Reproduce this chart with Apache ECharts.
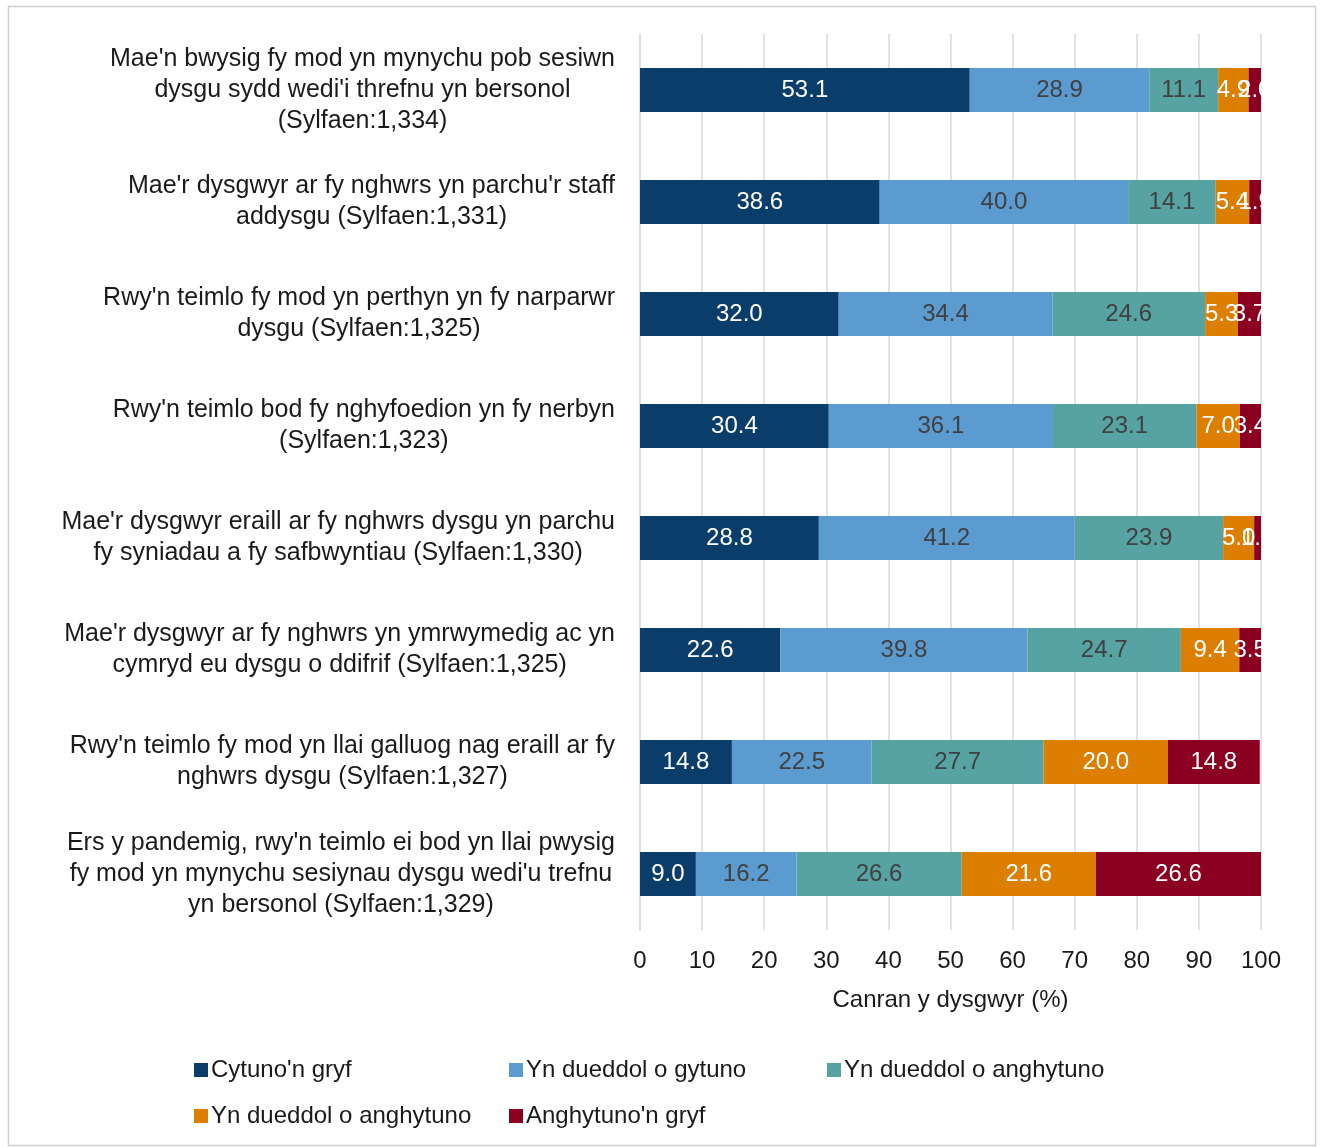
<!DOCTYPE html>
<html>
<head>
<meta charset="utf-8">
<script src="https://cdn.jsdelivr.net/npm/echarts@6/dist/echarts.min.js"></script>
<style>
html,body{margin:0;padding:0;background:#fff;}
#chart{width:1320px;height:1147px;}
</style>
</head>
<body>
<div id="chart"></div>
<script>
const categories = [
  "Mae'n bwysig fy mod yn mynychu pob sesiwn\ndysgu sydd wedi'i threfnu yn bersonol\n(Sylfaen:1,334)",
  "Mae'r dysgwyr ar fy nghwrs yn parchu'r staff\naddysgu (Sylfaen:1,331)",
  "Rwy'n teimlo fy mod yn perthyn yn fy narparwr\ndysgu (Sylfaen:1,325)",
  "Rwy'n teimlo bod fy nghyfoedion yn fy nerbyn\n(Sylfaen:1,323)",
  "Mae'r dysgwyr eraill ar fy nghwrs dysgu yn parchu\nfy syniadau a fy safbwyntiau (Sylfaen:1,330)",
  "Mae'r dysgwyr ar fy nghwrs yn ymrwymedig ac yn\ncymryd eu dysgu o ddifrif (Sylfaen:1,325)",
  "Rwy'n teimlo fy mod yn llai galluog nag eraill ar fy\nnghwrs dysgu (Sylfaen:1,327)",
  "Ers y pandemig, rwy'n teimlo ei bod yn llai pwysig\nfy mod yn mynychu sesiynau dysgu wedi'u trefnu\nyn bersonol (Sylfaen:1,329)"
];
const seriesNames = ["Cytuno'n gryf", "Yn dueddol o gytuno", "Yn dueddol o anghytuno", "Yn dueddol o anghytuno ", "Anghytuno'n gryf"];
const cytunoGryf      = [53.1, 38.6, 32.0, 30.4, 28.8, 22.6, 14.8, 9.0];
const dueddolGytuno   = [28.9, 40.0, 34.4, 36.1, 41.2, 39.8, 22.5, 16.2];
const dueddolAnghyt1  = [11.1, 14.1, 24.6, 23.1, 23.9, 24.7, 27.7, 26.6];
const dueddolAnghyt2  = [4.9, 5.4, 5.3, 7.0, 5.0, 9.4, 20.0, 21.6];
const anghytunoGryf   = [2.0, 1.9, 3.7, 3.4, 1.1, 3.5, 14.8, 26.6];
const xTicks = [0, 10, 20, 30, 40, 50, 60, 70, 80, 90, 100];

const values = [cytunoGryf, dueddolGytuno, dueddolAnghyt1, dueddolAnghyt2, anghytunoGryf];
const colors = ['#0b3d6b', '#5b9bd0', '#57a3a3', '#dc7f00', '#8b0021'];
const labelColors = ['#ffffff', '#404040', '#404040', '#ffffff', '#ffffff'];
const FONT = '"Liberation Sans", Arial, sans-serif';
const TXT = '#1a1a1a';

const legendPos = [[189, 1053], [504, 1053], [822, 1053], [189, 1099], [504, 1099]];

const chart = echarts.init(document.getElementById('chart'));
chart.setOption({
  animation: false,
  textStyle: { fontFamily: FONT },
  graphic: [{
    type: 'rect', left: 6, top: 4, z: -1,
    shape: { width: 1307, height: 1139 },
    style: { fill: 'none', stroke: '#d0d0d0', lineWidth: 1.5 }
  }],
  grid: { left: 640, right: 59, top: 34, bottom: 217, containLabel: false },
  xAxis: {
    type: 'value', min: 0, max: 100, interval: 10,
    name: 'Canran y dysgwyr (%)', nameLocation: 'middle', nameGap: 58,
    nameTextStyle: { fontSize: 24, color: TXT, fontFamily: FONT },
    axisLine: { show: false }, axisTick: { show: false },
    axisLabel: { fontSize: 24, color: TXT, margin: 19, fontFamily: FONT,
      formatter: v => xTicks.includes(v) ? String(v) : '' },
    splitLine: { show: true, lineStyle: { color: '#d9d9d9', width: 1.5 } }
  },
  yAxis: {
    type: 'category', data: categories, inverse: true,
    axisLine: { show: true, lineStyle: { color: '#d9d9d9', width: 1.5 } },
    axisTick: { show: false },
    axisLabel: { fontSize: 25, color: TXT, margin: 25, align: 'right',
      lineHeight: 31, fontFamily: FONT,
      formatter: v => v.split('\n').map(l => '{c|' + l + '}').join('\n'),
      rich: { c: { align: 'center', fontSize: 25, lineHeight: 31, color: TXT, fontFamily: FONT } }
    }
  },
  legend: seriesNames.map((n, i) => ({
    data: [n],
    left: legendPos[i][0], top: legendPos[i][1], orient: 'horizontal',
    icon: 'rect', itemWidth: 14, itemHeight: 14, itemGap: 4,
    textStyle: { fontSize: 24, color: TXT, fontFamily: FONT, padding: [0, 0, 0, -2] }
  })),
  series: values.map((d, i) => ({
    name: seriesNames[i],
    type: 'bar', stack: 'total', barWidth: 44,
    data: d,
    itemStyle: { color: colors[i] },
    label: {
      show: true, position: 'inside', fontSize: 24, color: labelColors[i],
      fontFamily: FONT, formatter: p => p.value.toFixed(1)
    }
  }))
});
</script>
</body>
</html>
